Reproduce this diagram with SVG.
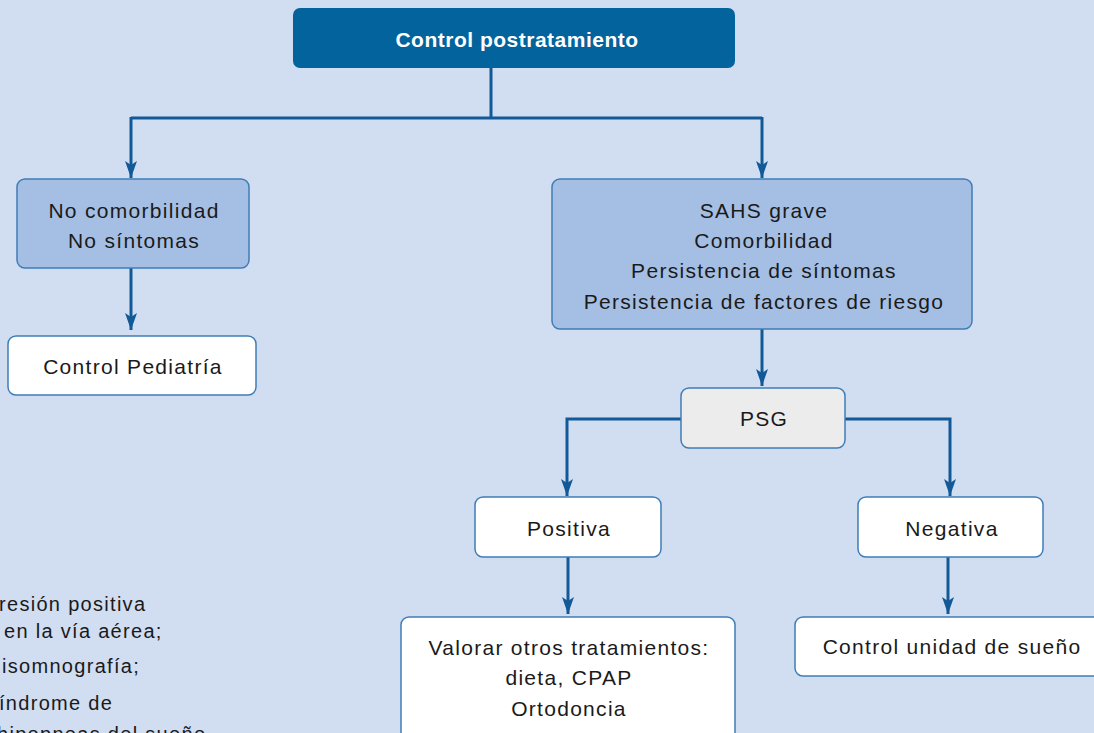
<svg xmlns="http://www.w3.org/2000/svg" width="1094" height="733" viewBox="0 0 1094 733">
<style>
.bg{fill:#d1ddf1}
.n{stroke:#3f7db5;stroke-width:1.5}
.blue{fill:#a5bfe4}
.white{fill:#ffffff}
.grey{fill:#ececec}
.t{font-family:"Liberation Sans",Arial,sans-serif;font-size:21px;letter-spacing:1.3px;fill:#1a1a1a;text-anchor:middle}
.tl{font-family:"Liberation Sans",Arial,sans-serif;font-size:20px;letter-spacing:1.3px;fill:#1a1a1a}
.c{fill:none;stroke:#125a97;stroke-width:3}
</style>
<defs>
<marker id="ah" viewBox="0 0 17 12" refX="17" refY="6" markerWidth="17" markerHeight="12" markerUnits="userSpaceOnUse" orient="auto">
<path d="M0,0 L4,6 L0,12 L17,6 Z" fill="#125a97"/>
</marker>
</defs>
<rect class="bg" x="0" y="0" width="1094" height="733"/>
<g id="connectors">
<path class="c" d="M491,68 V118 M131,118 H762"/>
<path class="c" d="M131,117 V178" marker-end="url(#ah)"/>
<path class="c" d="M762,117 V178" marker-end="url(#ah)"/>
<path class="c" d="M131,268 V330" marker-end="url(#ah)"/>
<path class="c" d="M762,329 V386" marker-end="url(#ah)"/>
<path class="c" d="M681,419 H567 V496" marker-end="url(#ah)"/>
<path class="c" d="M845,419 H950 V496" marker-end="url(#ah)"/>
<path class="c" d="M568,557 V614" marker-end="url(#ah)"/>
<path class="c" d="M948,557 V614" marker-end="url(#ah)"/>
</g>
<g id="n-top">
<rect x="293" y="8" width="442" height="60" rx="7" fill="#03639c"/>
<text x="517" y="47" font-family="Liberation Sans,Arial,sans-serif" font-size="21" font-weight="bold" letter-spacing="0.5" fill="#ffffff" text-anchor="middle">Control postratamiento</text>
</g>
<g id="n-nocomorb">
<rect class="n blue" x="17" y="179" width="232" height="89" rx="8"/>
<text class="t" x="134" y="218">No comorbilidad</text>
<text class="t" x="134" y="248">No síntomas</text>
</g>
<g id="n-pediatria">
<rect class="n white" x="8" y="336" width="248" height="59" rx="8"/>
<text class="t" x="133" y="374">Control Pediatría</text>
</g>
<g id="n-sahs">
<rect class="n blue" x="552" y="179" width="420" height="150" rx="8"/>
<text class="t" x="764" y="218">SAHS grave</text>
<text class="t" x="764" y="248">Comorbilidad</text>
<text class="t" x="764" y="278">Persistencia de síntomas</text>
<text class="t" x="764" y="309">Persistencia de factores de riesgo</text>
</g>
<g id="n-psg">
<rect class="n grey" x="681" y="388" width="164" height="60" rx="8"/>
<text class="t" x="764" y="426">PSG</text>
</g>
<g id="n-positiva">
<rect class="n white" x="475" y="497" width="186" height="60" rx="8"/>
<text class="t" x="569" y="536">Positiva</text>
</g>
<g id="n-negativa">
<rect class="n white" x="858" y="497" width="185" height="60" rx="8"/>
<text class="t" x="952" y="536">Negativa</text>
</g>
<g id="n-valorar">
<rect class="n white" x="401" y="617" width="334" height="130" rx="8"/>
<text class="t" x="569" y="655">Valorar otros tratamientos:</text>
<text class="t" x="569" y="685">dieta, CPAP</text>
<text class="t" x="569" y="716">Ortodoncia</text>
</g>
<g id="n-unidad">
<rect class="n white" x="795" y="617" width="310" height="59" rx="8"/>
<text class="t" x="952" y="654">Control unidad de sueño</text>
</g>
<g id="legend">
<text class="tl" x="-1" y="611">resión positiva</text>
<text class="tl" x="4" y="638"> en la vía aérea;</text>
<text class="tl" x="2" y="673">isomnografía;</text>
<text class="tl" x="-1" y="710">índrome de</text>
<text class="tl" x="-3" y="741">hipopneas del sueño</text>
</g>
</svg>
